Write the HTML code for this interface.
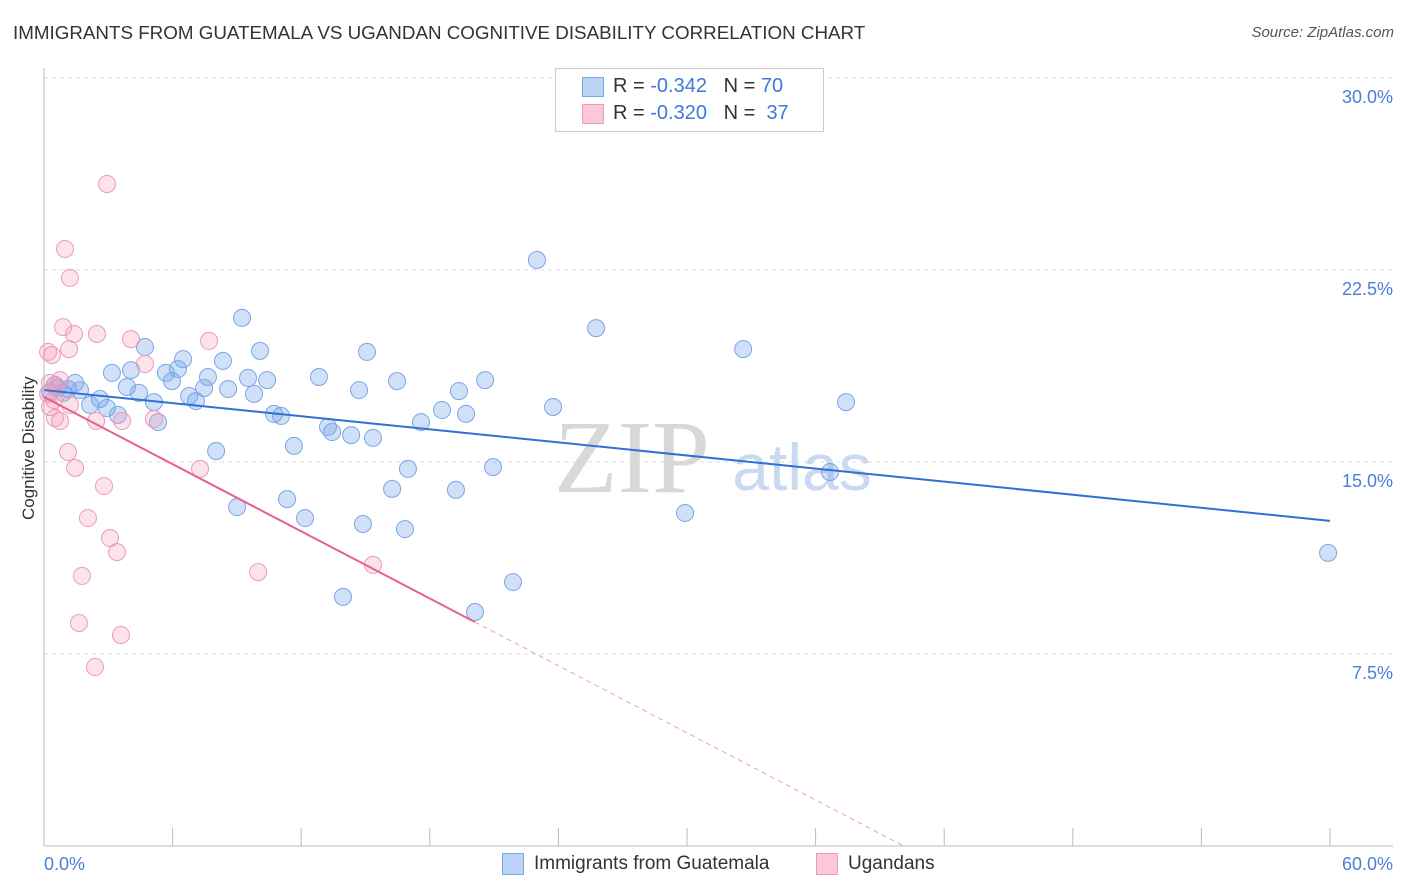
<!DOCTYPE html>
<html><head><meta charset="utf-8"><style>
body{margin:0;background:#fff;font-family:"Liberation Sans",sans-serif;}
#wrap{position:relative;width:1406px;height:892px;overflow:hidden;}
.t{position:absolute;white-space:nowrap;}
</style></head><body>
<div id="wrap">
<div class="t" style="left:13px;top:22px;font-size:18.8px;color:#333;">IMMIGRANTS FROM GUATEMALA VS UGANDAN COGNITIVE DISABILITY CORRELATION CHART</div>
<div class="t" style="right:12px;top:24px;font-size:15px;color:#555;font-style:italic;">Source: ZipAtlas.com</div>
<div class="t" style="left:-36px;top:445px;font-size:17px;color:#333;transform:rotate(-90deg);width:130px;text-align:center;">Cognitive Disability</div>
<svg id="svg" width="1406" height="892" style="position:absolute;left:0;top:0">
<text x="632" y="492" font-family="Liberation Serif,serif" font-size="104" fill="#d8d8d8" text-anchor="middle">ZIP</text>
<text x="802" y="490" font-family="Liberation Sans,sans-serif" font-size="66" fill="#c9d9f0" text-anchor="middle">atlas</text>
</svg>
<div style="position:absolute;left:555px;top:68px;width:267px;height:62px;border:1px solid #ccc;background:#fff;">
<div style="position:absolute;left:26px;top:8px;width:20px;height:18px;background:#bcd4f5;border:1px solid #7aa6e6;"></div>
<div class="t" style="left:57px;top:6px;font-size:20px;color:#333;">R = <span style="color:#3f78d8">-0.342</span>&nbsp;&nbsp;&nbsp;N = <span style="color:#3f78d8">70</span></div>
<div style="position:absolute;left:26px;top:35px;width:20px;height:18px;background:#f9c9d8;border:1px solid #ec9ab6;"></div>
<div class="t" style="left:57px;top:33px;font-size:20px;color:#333;">R = <span style="color:#3f78d8">-0.320</span>&nbsp;&nbsp;&nbsp;N = &nbsp;<span style="color:#3f78d8">37</span></div>
</div>
<div style="position:absolute;left:502px;top:853px;width:20px;height:20px;background:#bcd4f5;border:1px solid #7aa6e6;"></div>
<div class="t" style="left:534px;top:853px;font-size:19px;color:#333;">Immigrants from Guatemala</div>
<div style="position:absolute;left:816px;top:853px;width:20px;height:20px;background:#f9c9d8;border:1px solid #ec9ab6;"></div>
<div class="t" style="left:848px;top:853px;font-size:19px;color:#333;">Ugandans</div>
</div>
<script>
const blueX=[23.0,25.76,32.62,9.24,4.71,6.49,8.35,10.08,15.07,3.17,4.06,5.69,6.25,7.65,5.97,9.52,10.41,12.83,16.47,20.58,3.87,4.43,7.47,8.59,9.80,14.70,19.36,1.45,1.68,0.65,0.89,2.15,2.61,2.94,3.45,5.13,6.77,7.09,5.32,10.73,11.06,13.25,13.44,14.33,15.35,17.59,18.57,19.69,23.75,37.42,11.66,8.03,16.98,20.95,36.67,16.24,19.22,11.34,9.01,12.18,14.88,16.84,29.91,59.91,21.88,13.95,20.11,0.28,0.51,1.12];
const blueY=[22.89,20.23,19.41,20.63,19.49,19.02,18.95,19.34,19.30,18.48,18.59,18.48,18.63,18.32,18.16,18.28,18.20,18.32,18.16,18.20,17.93,17.70,17.89,17.85,17.66,17.81,17.77,18.09,17.81,17.89,17.70,17.23,17.46,17.11,16.84,17.34,17.58,17.38,16.56,16.88,16.80,16.37,16.17,16.05,15.94,16.56,17.03,16.88,17.15,17.34,15.63,15.43,14.73,14.80,14.61,13.95,13.91,13.55,13.24,12.81,12.58,12.38,13.01,11.45,10.31,9.73,9.14,17.73,18.01,17.85];
const pinkX=[2.94,0.98,1.21,0.89,2.47,1.40,4.06,7.70,0.19,0.37,1.17,4.71,0.75,0.28,0.56,0.19,0.47,1.21,0.51,0.75,2.43,5.13,3.64,1.12,1.45,7.28,2.80,2.05,3.08,3.41,1.77,9.99,15.35,1.63,3.59,2.38,0.28];
const pinkY=[25.86,23.32,22.19,20.27,20.0,20.0,19.80,19.73,19.30,19.18,19.41,18.83,18.20,18.09,17.89,17.66,17.42,17.23,16.72,16.60,16.60,16.68,16.60,15.39,14.77,14.73,14.06,12.81,12.03,11.48,10.55,10.70,10.98,8.71,8.24,6.99,17.15];
const blueTrend=[17.81,12.70];
const pinkTrend=[17.54,8.75,20.1];
const yTicks=[7.5,15.0,22.5,30.0];
const yTickLabels=["7.5%","15.0%","22.5%","30.0%"];
const xTicks=[0,6,12,18,24,30,36,42,48,54,60];
const xLabels=["0.0%","60.0%"];

const X0=44,X1=1330,YB=846,YT=78;
const sx=v=>X0+v/60*(X1-X0);
const sy=v=>YB-v/30*(YB-YT);
const svg=document.getElementById('svg');
const NS='http://www.w3.org/2000/svg';
function mk(tag,a){const e=document.createElementNS(NS,tag);for(const k in a)e.setAttribute(k,a[k]);svg.appendChild(e);return e;}
yTicks.forEach((t,i)=>{
  const g=mk('line',{x1:X0,x2:1393,y1:sy(t),y2:sy(t),stroke:'#ddd','stroke-dasharray':'4,4'});
  
  
  const l=mk('text',{x:1393,y:sy(t)+25,'text-anchor':'end','font-size':18,fill:'#4a7fd8','font-family':'Liberation Sans,sans-serif'});
  l.textContent=yTickLabels[i];
  
  
});
const ax=mk('line',{x1:X0,x2:X0,y1:68,y2:YB,stroke:'#bbb'});


const bx=mk('line',{x1:X0,x2:1393,y1:YB,y2:YB,stroke:'#bbb'});


xTicks.forEach(t=>{
  const e=mk('line',{x1:sx(t),x2:sx(t),y1:828,y2:YB,stroke:'#bbb'});
  
  
});
[[0,'start',44],[60,'end',1393]].forEach((d,i)=>{
  const l=mk('text',{x:d[2],y:870,'text-anchor':d[1],'font-size':18,fill:'#4a7fd8','font-family':'Liberation Sans,sans-serif'});
  l.textContent=xLabels[i];
  
  
});
blueX.forEach((x,i)=>{
  const c=mk('circle',{cx:sx(x),cy:sy(blueY[i]),r:8.5,fill:'rgba(120,165,235,0.35)',stroke:'#7aa6e6','stroke-width':1});
  
  
});
pinkX.forEach((x,i)=>{
  const c=mk('circle',{cx:sx(x),cy:sy(pinkY[i]),r:8.5,fill:'rgba(245,160,190,0.3)',stroke:'#ec9ab6','stroke-width':1});
  
  
});
const bt=mk('line',{x1:sx(0),y1:sy(blueTrend[0]),x2:sx(60),y2:sy(blueTrend[1]),stroke:'#2f6fd6','stroke-width':2});


const slope=(pinkTrend[1]-pinkTrend[0])/pinkTrend[2];
const xEnd=-pinkTrend[0]/slope;
const pt=mk('line',{x1:sx(0),y1:sy(pinkTrend[0]),x2:sx(pinkTrend[2]),y2:sy(pinkTrend[1]),stroke:'#e8608f','stroke-width':2});


const pd=mk('line',{x1:sx(pinkTrend[2]),y1:sy(pinkTrend[1]),x2:sx(xEnd),y2:sy(0),stroke:'#e8a0b8','stroke-width':1,'stroke-dasharray':'5,4'});


</script>
</body></html>
